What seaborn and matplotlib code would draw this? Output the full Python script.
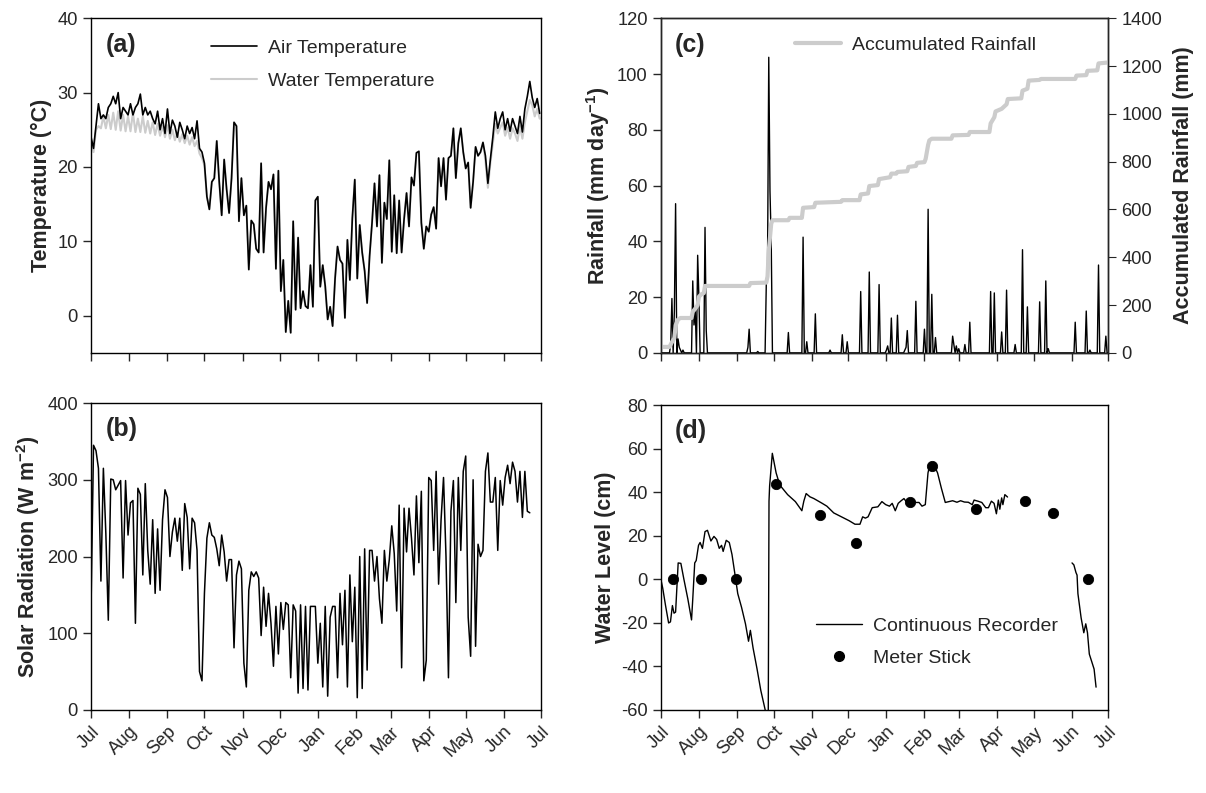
import numpy as np
import pandas as pd
import matplotlib
matplotlib.use("Agg")
import matplotlib.pyplot as plt
from matplotlib.lines import Line2D
import seaborn as sns

# ---------------- data ----------------
START = "2006-07-01"
month_labels = ["Jul", "Aug", "Sep", "Oct", "Nov", "Dec", "Jan",
                "Feb", "Mar", "Apr", "May", "Jun", "Jul"]

# (a) temperatures, every second day from 1 July
temp_days = list(range(0, 365, 2))
air_temp = [24, 22.5, 25.5, 28.5, 26.5, 27, 26.5, 28, 28.5, 29.5,
            28.5, 30, 26.5, 28, 27.5, 27, 28.5, 27, 28, 28.5,
            29.8, 27, 28, 27, 27.5, 26.5, 25.8, 27.5, 25, 26.5,
            24.5, 27.8, 24.5, 26.3, 25.5, 24, 26, 25, 23.8, 25.5,
            24.5, 25.3, 23.8, 26.2, 22.5, 22, 20.5, 16, 14.3, 18,
            18.5, 23.5, 18, 13.5, 21, 17, 13.8, 18.5, 26, 25.5,
            12.7, 18.5, 13.5, 14.8, 6.2, 12.8, 12.3, 9, 8.5, 20.5,
            8.5, 14.5, 18, 17, 19, 6.3, 19.5, 3.3, 7.5, -2.2,
            2, -2.3, 12.7, 0.8, 10.5, 1, 3.3, 1.3, 1, 6.8,
            1.2, 15.5, 16, 3.9, 6.8, 4, -0.5, 1.2, -1.4, 5,
            9.3, 7.5, 7, -0.3, 10.2, 4.8, 13.1, 18.3, 5, 12.2,
            8.5, 6, 1.7, 8, 12.5, 17.8, 12, 18.9, 7.1, 15.2,
            13, 20.9, 8.6, 16.2, 8.4, 15.5, 8.5, 13, 16.5, 12,
            18.6, 17.5, 21.9, 22.1, 12.5, 9, 12, 11.3, 13.6, 14.6,
            11.7, 21.2, 17.4, 21.2, 15.6, 21.2, 21.5, 25.2, 18.5, 23.2,
            25.2, 22, 19.8, 20.6, 14.5, 18, 22.7, 21.5, 22, 23.3,
            21.5, 17.8, 21, 24, 27.4, 25.2, 26.5, 27.4, 25, 26.5,
            24.8, 26.5, 25.5, 24.5, 26.8, 24.7, 27.8, 29.5, 31.5, 29.3,
            28, 29.2, 27.2]
water_temp = [23.5, 22, 25, 25.5, 25.2, 26.8, 25.2, 27, 25.1, 27.3,
              25, 27.5, 24.9, 27, 24.8, 26.8, 24.8, 27.3, 24.7, 26.5,
              24.7, 26.8, 24.6, 26.2, 24.5, 26, 24.3, 25.8, 24.2, 25.5,
              24, 25.6, 23.8, 25, 23.6, 24.6, 23.4, 24.4, 23.2, 24.2,
              23, 24, 22.8, 23.5, 21.8, 21.2, 20.2, 16, 14.3, 18,
              18.5, 23.5, 18, 13.5, 21, 17, 13.8, 18.5, 26, 25.5,
              12.7, 18.5, 13.5, 14.8, 6.2, 12.8, 12.3, 9, 8.5, 20.5,
              8.5, 14.5, 18, 17, 19, 6.3, 19.5, 3.3, 7.5, -2.2,
              2, -2.3, 12.7, 0.8, 10.5, 1, 3.3, 1.3, 1, 6.8,
              1.2, 15.5, 16, 3.9, 6.8, 4, -0.5, 1.2, -1.4, 5,
              9.3, 7.5, 7, -0.3, 10.2, 4.8, 13.1, 18.3, 5, 12.2,
              8.5, 6, 1.7, 8, 12.5, 17.8, 12, 18.9, 7.1, 15.2,
              13, 20.9, 8.6, 16.2, 8.4, 15.5, 8.5, 13, 16.5, 12,
              18.6, 17.5, 21.9, 22.1, 12.5, 9, 12, 11.3, 13.6, 14.6,
              11.7, 21.2, 17.4, 21.2, 15.6, 21.2, 21.5, 25.2, 18.5, 23.2,
              25.2, 22, 19.8, 20.6, 14.5, 18, 22.7, 21.5, 22, 23.3,
              20.8, 17.2, 20.5, 23.2, 25.8, 24.5, 25.3, 26, 24.2, 25.3,
              23.8, 25.2, 24.5, 23.5, 25.5, 23.8, 26, 27.5, 29, 28.3,
              26.8, 27.8, 26.5]

# (b) solar radiation, every second day
solar_days = list(range(0, 357, 2))
solar_rad = [135, 345, 338, 315, 168, 315, 230, 117, 301, 300,
             287, 293, 299, 172, 299, 228, 270, 273, 113, 289,
             281, 176, 295, 208, 164, 248, 152, 236, 156, 248,
             287, 277, 200, 232, 250, 220, 250, 182, 269, 251,
             184, 250, 244, 208, 50, 38, 152, 224, 244, 228,
             225, 210, 188, 228, 206, 168, 196, 196, 81, 176,
             194, 184, 61, 30, 156, 180, 174, 180, 172, 97,
             160, 109, 152, 113, 57, 135, 73, 140, 105, 140,
             137, 42, 137, 129, 22, 137, 28, 135, 26, 135,
             135, 135, 61, 113, 30, 135, 18, 121, 135, 135,
             42, 152, 85, 156, 30, 176, 89, 160, 16, 200,
             28, 210, 52, 208, 208, 168, 200, 145, 113, 208,
             168, 196, 240, 204, 129, 267, 55, 263, 206, 263,
             224, 176, 279, 192, 285, 38, 65, 303, 299, 208,
             311, 164, 248, 303, 200, 42, 259, 299, 140, 303,
             208, 311, 331, 121, 70, 300, 83, 216, 200, 208,
             311, 335, 271, 271, 303, 208, 299, 267, 303, 319,
             295, 323, 311, 271, 311, 251, 311, 259, 257]

# (c) daily rainfall events and accumulated rainfall
rain_days = [8, 9, 11, 12, 14, 15, 16, 18, 26, 27, 28, 30, 31, 36, 37, 71, 72,
             79, 86, 87, 88, 89, 90, 104, 116, 119, 126, 138, 148, 152, 163,
             170, 178, 184, 185, 188, 193, 199, 200, 201, 208, 215, 218, 221,
             224, 238, 239, 241, 243, 248, 252, 269, 272, 278, 282, 289, 295,
             299, 309, 314, 316, 338, 347, 350, 357, 363]
rain_mm = [3, 19.5, 15, 53.5, 5, 2, 1, 1, 25.8, 10, 16, 35, 20, 45, 8, 2, 8.5,
           0.5, 25, 32, 106, 58, 40, 7.3, 41.5, 4, 14, 1, 6.5, 4, 22,
           29, 24.5, 1, 2.5, 12.5, 13.5, 1, 2, 8, 18.5, 8.5, 51.5, 21,
           5.5, 6, 3, 2.5, 1.5, 3, 11, 22, 21.5, 7.5, 22.5, 3, 37,
           16.5, 18.3, 25.8, 1.5, 11, 15, 1, 31.5, 6]
acc_days = [0, 7, 9, 11, 12, 14, 16, 25, 26, 28, 30, 31, 33, 35, 36, 72, 73,
            86, 87, 88, 89, 90, 91, 104, 105, 115, 116, 125, 126, 147, 148,
            162, 163, 169, 170, 177, 178, 187, 188, 192, 193, 201, 202, 208,
            209, 215, 216, 218, 219, 221, 237, 238, 251, 252, 268, 269, 272,
            273, 278, 282, 283, 294, 295, 299, 300, 309, 310, 338, 339, 347,
            348, 356, 357, 365]
acc_mm = [25, 25, 45, 62, 115, 140, 146, 146, 172, 185, 200, 235, 245, 250,
          280, 280, 292, 294, 320, 426, 484, 540, 555, 555, 565, 565, 607,
          610, 628, 632, 639, 639, 663, 667, 698, 702, 727, 735, 750, 750,
          757, 760, 778, 782, 795, 798, 812, 870, 889, 896, 896, 910, 912,
          924, 924, 960, 986, 1010, 1021, 1040, 1062, 1065, 1097, 1105, 1139,
          1142, 1146, 1146, 1160, 1162, 1180, 1182, 1211, 1215]

# (d) water level: continuous recorder (two records) and meter stick
level1_days = [0, 1.5, 3.8, 6.3, 7.8, 9.4, 10.7, 12, 14.1, 16.3, 18.8, 22, 25,
               26, 27.6, 28.8, 30.7, 32, 33.9, 36, 38, 40.8, 43.3, 45.5, 47.6,
               49.5, 50.8, 53.3, 55.8, 58, 60.2, 62.7, 65.8, 69, 71.5, 73,
               75.2, 78.4, 81.5, 85.3, 87.6, 88.2, 88.7, 90.9, 94, 97, 103.4,
               109.7, 115, 116.6, 118.5, 121.6, 124.8, 127.9, 131.6, 135.4,
               141, 147.3, 153.6, 158.3, 162.4, 164.6, 166.8, 169, 172.4, 177,
               180.3, 183.4, 186.5, 188.7, 191.2, 193.6, 196, 198.3, 200.6,
               203.1, 205.3, 207.9, 210.6, 213, 215.7, 217.9, 219.4, 223,
               225.7, 228.8, 232, 235, 238, 241.5, 244.5, 247.6, 250.8, 254,
               255.5, 258.6, 261.8, 265, 267.2, 269.6, 271.8, 273.7, 275.3,
               276.5, 278, 279, 280.6, 282.8]
level1_cm = [0, -4, -12, -20, -19.5, -12, -15.5, -15, 7.6, 7.4, 0, -9, -18.6,
             -9, 7.6, 8.7, 15.7, 17, 14.3, 22, 22.6, 17.7, 19.8, 18.4, 14.3,
             15.7, 12.9, 18, 17, 11.5, 3.2, -6.5, -12.8, -20.4, -28.4, -23.4,
             -31.5, -41, -51, -60.5, -60.5, 36, 43, 58, 49, 43.4, 39,
             35.8, 31.6, 36, 39.5, 38, 37.2, 36.2, 35, 33.7,
             30.6, 28.8, 27, 25.4, 25.4, 28.8, 28.2, 28.8, 33, 33.4,
             35.8, 34.4, 33.7, 35, 31.6, 35, 36.2, 37.2, 35.4,
             36.8, 36.2, 35.4, 35.4, 33.7, 34.4, 49, 52.8, 52.4,
             49, 42, 35.4, 35.8, 36.2, 35.5, 36.2, 35.6, 35.5, 34.4,
             36.5, 36, 35.4, 33, 33, 36, 35, 30.2, 36.5,
             32.3, 37.5, 34.4, 39, 37.9]
level2_days = [335.4, 336.9, 338.6, 339.5, 340.2, 342.8, 345, 346.6, 348,
               349.5, 351.6, 353.4, 355]
level2_cm = [7.6, 6.7, 3.2, 2, -6.5, -17.6, -24.5, -20.4, -24.5, -34.3, -38,
             -41.2, -49.5]
stick_days = [10, 33, 61, 94, 130, 159, 203, 221, 257, 297, 320, 348.6]
stick_cm = [0.4, 0.4, 0.4, 44, 29.5, 16.8, 35.8, 52, 32.2, 36, 30.6, 0.3]


def to_dates(days):
    return pd.Timestamp(START) + pd.to_timedelta(np.asarray(days, float), unit="D")


# daily rainfall table built from the events
daily_rain = pd.Series(0.0, index=np.arange(366))
daily_rain.loc[rain_days] = rain_mm

# ---------------- style ----------------
sns.set_style("ticks")
plt.rcParams["font.family"] = ["Liberation Sans", "DejaVu Sans"]
plt.rcParams["axes.linewidth"] = 1.0
plt.rcParams["axes.unicode_minus"] = False
plt.rcParams["mathtext.fontset"] = "custom"
plt.rcParams["mathtext.rm"] = "Liberation Sans"
plt.rcParams["mathtext.bf"] = "Liberation Sans:bold"
plt.rcParams["mathtext.it"] = "Liberation Sans:italic"
TICK_FS = 13.2
LAB_FS = 15.5
LEG_FS = 14

fig = plt.figure(figsize=(12.06, 7.93), dpi=100)
ax_a = fig.add_axes([0.0755, 0.555, 0.373, 0.422])
ax_b = fig.add_axes([0.0755, 0.1047, 0.373, 0.387])
ax_c = fig.add_axes([0.548, 0.555, 0.371, 0.422])
ax_d = fig.add_axes([0.548, 0.1047, 0.371, 0.384])

tick_dates = pd.date_range(START, periods=13, freq="MS")
x0, x1 = tick_dates[0], tick_dates[-1]
GRAY = "#cccccc"
LEG_KW = dict(frameon=False, fontsize=LEG_FS, handlelength=2.37,
              handletextpad=0.55)

# (a)
sns.lineplot(x=to_dates(temp_days), y=water_temp, ax=ax_a, color=GRAY,
             lw=1.5, estimator=None)
sns.lineplot(x=to_dates(temp_days), y=air_temp, ax=ax_a, color="black",
             lw=1.2, estimator=None)
ax_a.set_ylim(-5, 40)
ax_a.set_yticks([0, 10, 20, 30, 40])
ax_a.set_ylabel("Temperature (°C)", fontsize=LAB_FS, fontweight="bold")
ax_a.legend([Line2D([], [], color="black", lw=1.2),
             Line2D([], [], color=GRAY, lw=1.5)],
            ["Air Temperature", "Water Temperature"], loc="upper left",
            bbox_to_anchor=(0.228, 0.99), labelspacing=0.79, **LEG_KW)

# (b)
sns.lineplot(x=to_dates(solar_days), y=solar_rad, ax=ax_b, color="black",
             lw=1.1, estimator=None)
ax_b.set_ylim(0, 400)
ax_b.set_yticks([0, 100, 200, 300, 400])
ax_b.set_ylabel("Solar Radiation (W m$^{\\mathbf{-2}}$)", fontsize=LAB_FS,
                fontweight="bold")

# (c)
sns.lineplot(x=to_dates(daily_rain.index), y=daily_rain.values, ax=ax_c,
             color="black", lw=1.0, estimator=None)
ax_c.set_ylim(0, 120)
ax_c.set_yticks(range(0, 121, 20))
ax_c.set_ylabel("Rainfall (mm day$^{\\mathbf{-1}}$)", fontsize=LAB_FS,
                fontweight="bold")
ax_c2 = ax_c.twinx()
sns.lineplot(x=to_dates(acc_days), y=acc_mm, ax=ax_c2, color=GRAY, lw=3,
             estimator=None)
ax_c2.set_ylim(0, 1400)
ax_c2.set_yticks(range(0, 1401, 200))
ax_c2.set_ylabel("Accumulated Rainfall (mm)", fontsize=LAB_FS,
                 fontweight="bold", labelpad=8)
ax_c2.tick_params(axis="y", direction="out", length=6, labelsize=TICK_FS)
ax_c2.legend([Line2D([], [], color=GRAY, lw=3)], ["Accumulated Rainfall"],
             loc="upper left", bbox_to_anchor=(0.2606, 0.998), **LEG_KW)

# (d)
sns.lineplot(x=to_dates(level1_days), y=level1_cm, ax=ax_d, color="black",
             lw=1.0, estimator=None, sort=False)
sns.lineplot(x=to_dates(level2_days), y=level2_cm, ax=ax_d, color="black",
             lw=1.0, estimator=None, sort=False)
sns.scatterplot(x=to_dates(stick_days), y=stick_cm, ax=ax_d, color="black",
                s=55, edgecolor="black", zorder=5)
ax_d.set_ylim(-60, 80)
ax_d.set_yticks(range(-60, 81, 20))
ax_d.set_ylabel("Water Level (cm)", fontsize=LAB_FS, fontweight="bold")
ax_d.legend([Line2D([], [], color="black", lw=1.0),
             Line2D([], [], color="black", marker="o", ls="none", ms=7)],
            ["Continuous Recorder", "Meter Stick"], loc="lower left",
            bbox_to_anchor=(0.3076, 0.0846), labelspacing=0.74, **LEG_KW)

for ax, tag in [(ax_a, "(a)"), (ax_b, "(b)"), (ax_c, "(c)"), (ax_d, "(d)")]:
    ax.set_xlim(x0, x1)
    ax.set_xticks(tick_dates)
    ax.set_xlabel("")
    ax.tick_params(direction="out", length=6, width=1, labelsize=TICK_FS)
    ax.text(0.032, 0.955, tag, transform=ax.transAxes, fontsize=18,
            fontweight="bold", va="top", ha="left")
    for s in ax.spines.values():
        s.set_visible(True)
        s.set_color("black")

for ax in (ax_a, ax_c):
    ax.set_xticklabels([])
for ax in (ax_b, ax_d):
    ax.set_xticklabels(month_labels, rotation=45, ha="right",
                       rotation_mode="anchor")

fig.savefig("out.png", dpi=100)
